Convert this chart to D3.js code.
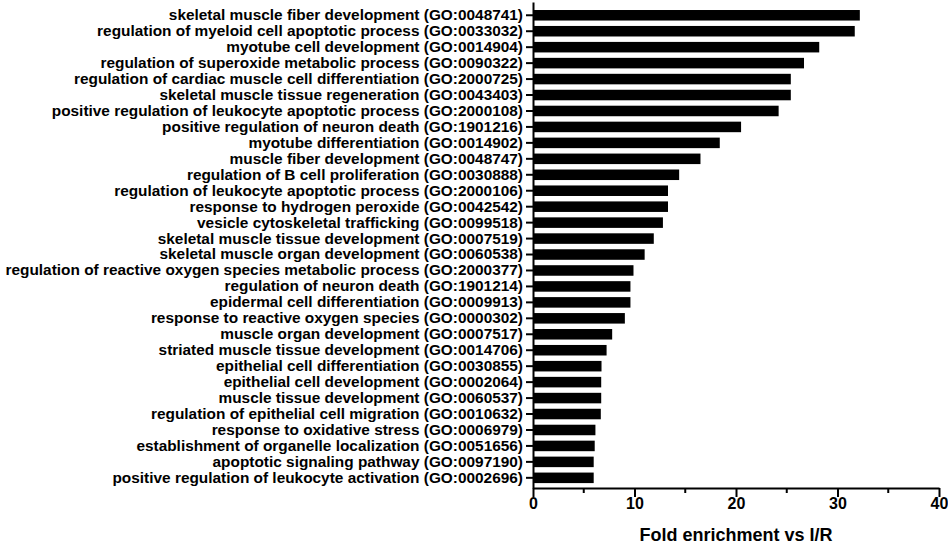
<!DOCTYPE html>
<html>
<head>
<meta charset="utf-8">
<script src="https://cdn.jsdelivr.net/npm/d3@7"></script>
<style>
  html, body { margin: 0; padding: 0; background: #fff; }
  svg { display: block; }
</style>
</head>
<body>
<svg width="948" height="548"></svg>
<script>
// GO terms, top to bottom
const terms = [
    "skeletal muscle fiber development (GO:0048741)",
    "regulation of myeloid cell apoptotic process (GO:0033032)",
    "myotube cell development (GO:0014904)",
    "regulation of superoxide metabolic process (GO:0090322)",
    "regulation of cardiac muscle cell differentiation (GO:2000725)",
    "skeletal muscle tissue regeneration (GO:0043403)",
    "positive regulation of leukocyte apoptotic process (GO:2000108)",
    "positive regulation of neuron death (GO:1901216)",
    "myotube differentiation (GO:0014902)",
    "muscle fiber development (GO:0048747)",
    "regulation of B cell proliferation (GO:0030888)",
    "regulation of leukocyte apoptotic process (GO:2000106)",
    "response to hydrogen peroxide (GO:0042542)",
    "vesicle cytoskeletal trafficking (GO:0099518)",
    "skeletal muscle tissue development (GO:0007519)",
    "skeletal muscle organ development (GO:0060538)",
    "regulation of reactive oxygen species metabolic process (GO:2000377)",
    "regulation of neuron death (GO:1901214)",
    "epidermal cell differentiation (GO:0009913)",
    "response to reactive oxygen species (GO:0000302)",
    "muscle organ development (GO:0007517)",
    "striated muscle tissue development (GO:0014706)",
    "epithelial cell differentiation (GO:0030855)",
    "epithelial cell development (GO:0002064)",
    "muscle tissue development (GO:0060537)",
    "regulation of epithelial cell migration (GO:0010632)",
    "response to oxidative stress (GO:0006979)",
    "establishment of organelle localization (GO:0051656)",
    "apoptotic signaling pathway (GO:0097190)",
    "positive regulation of leukocyte activation (GO:0002696)"
];

// fold enrichment
const foldEnrichment = [
    32.2, 31.7, 28.2, 26.7, 25.4, 25.4, 24.2, 20.5, 18.4, 16.5,
    14.4, 13.3, 13.3, 12.8, 11.9, 11.0, 9.9, 9.6, 9.6, 9.05,
    7.8, 7.25, 6.75, 6.72, 6.72, 6.68, 6.15, 6.08, 5.98, 5.98
];

const majorTicks = [0, 10, 20, 30, 40];
const minorTicks = [5, 15, 25, 35];
const xTitle = "Fold enrichment vs I/R";

const data = terms.map((t, i) => ({ term: t, value: foldEnrichment[i] }));

const fontFamily = "Liberation Sans, Arial, sans-serif";

const svg = d3.select("svg");
const width = +svg.attr("width");
const height = +svg.attr("height");
const margin = { top: 2, right: 9, bottom: 60, left: 533 };
const innerWidth = width - margin.left - margin.right;
const innerHeight = height - margin.top - margin.bottom;

const g = svg.append("g")
    .attr("transform", `translate(${margin.left}, ${margin.top})`);

const xScale = d3.scaleLinear()
    .domain([0, 40])
    .range([0, innerWidth]);

const yScale = d3.scaleBand()
    .domain(terms)
    .range([0, innerHeight])
    .paddingInner(0.34)
    .paddingOuter(0.405)
    .align(0.62);

// bars
g.selectAll("rect.bar")
    .data(data)
    .join("rect")
    .attr("class", "bar")
    .attr("x", 0)
    .attr("y", d => yScale(d.term))
    .attr("width", d => xScale(d.value))
    .attr("height", yScale.bandwidth())
    .attr("fill", "#000");

// y axis
const yAxis = g.append("g")
    .call(d3.axisLeft(yScale).tickSizeInner(7).tickSizeOuter(0).tickPadding(3))
    .attr("font-family", fontFamily)
    .attr("font-size", 15.4)
    .attr("font-weight", "bold");
yAxis.selectAll("text").attr("fill", "#000");
yAxis.selectAll("line, path").attr("stroke", "#000").attr("stroke-width", 2);

// x axis
const xAxis = g.append("g")
    .attr("transform", `translate(0,${innerHeight})`)
    .call(d3.axisBottom(xScale).tickValues(majorTicks).tickSizeInner(9).tickSizeOuter(0).tickPadding(1))
    .attr("font-family", fontFamily)
    .attr("font-size", 16)
    .attr("font-weight", "bold");
xAxis.selectAll("text").attr("fill", "#000");
xAxis.selectAll("line, path").attr("stroke", "#000").attr("stroke-width", 2);

// minor ticks
g.append("g")
    .attr("transform", `translate(0,${innerHeight})`)
    .selectAll("line")
    .data(minorTicks)
    .join("line")
    .attr("x1", d => xScale(d))
    .attr("x2", d => xScale(d))
    .attr("y1", 0)
    .attr("y2", 5)
    .attr("stroke", "#000")
    .attr("stroke-width", 2);

// x title
g.append("text")
    .attr("x", innerWidth / 2)
    .attr("y", innerHeight + 53)
    .attr("text-anchor", "middle")
    .attr("font-family", fontFamily)
    .attr("font-size", 18)
    .attr("font-weight", "bold")
    .attr("fill", "#000")
    .text(xTitle);
</script>
</body>
</html>
